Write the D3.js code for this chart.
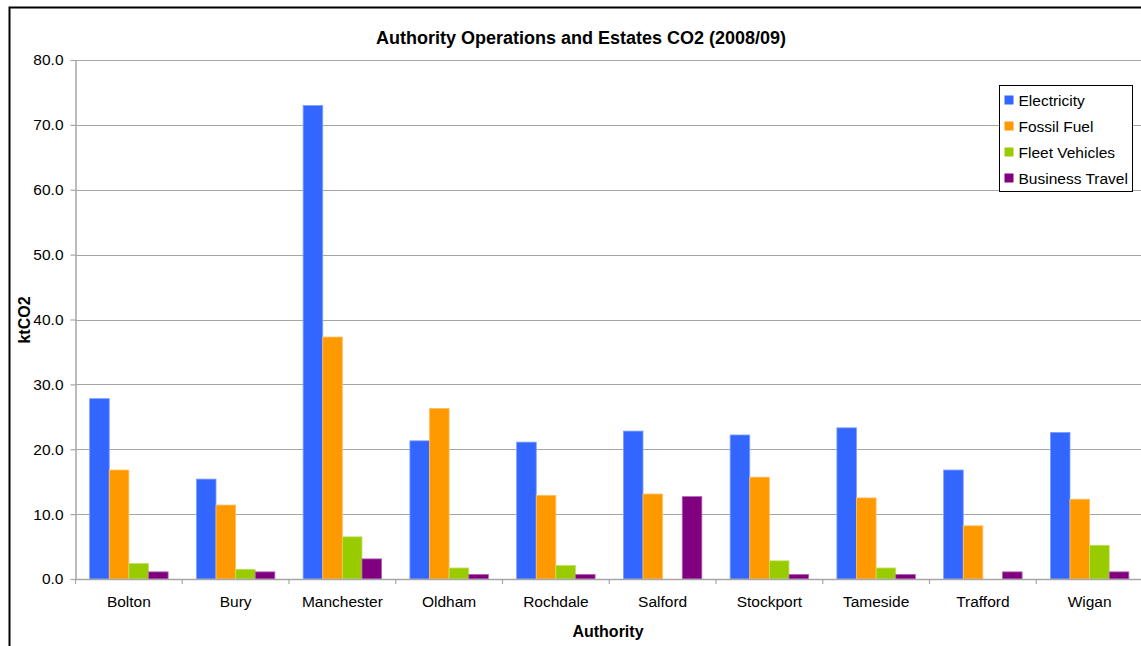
<!DOCTYPE html>
<html>
<head>
<meta charset="utf-8">
<script src="https://cdn.jsdelivr.net/npm/d3@7"></script>
<style>
  html, body { margin: 0; padding: 0; background: #fff; }
  svg { display: block; font-family: "Liberation Sans", Arial, sans-serif; }
</style>
</head>
<body>
<svg id="chart" width="1141" height="646"></svg>
<script>
// Authorities on the x axis
const authorities = ["Bolton", "Bury", "Manchester", "Oldham", "Rochdale", "Salford", "Stockport", "Tameside", "Trafford", "Wigan"];

// Emission sources (series)
const seriesNames = ["Electricity", "Fossil Fuel", "Fleet Vehicles", "Business Travel"];

// ktCO2 per authority for each source
const electricity    = [27.8, 15.4, 73.0, 21.3, 21.1, 22.8, 22.2, 23.3, 16.8, 22.6];
const fossilFuel     = [16.8, 11.4, 37.3, 26.3, 12.9, 13.1, 15.7, 12.5, 8.2, 12.3];
const fleetVehicles  = [2.4, 1.5, 6.5, 1.7, 2.1, 0.0, 2.8, 1.7, 0.0, 5.2];
const businessTravel = [1.1, 1.1, 3.1, 0.7, 0.7, 12.7, 0.7, 0.7, 1.1, 1.1];

const yTicks = [0, 10, 20, 30, 40, 50, 60, 70, 80];

const seriesValues = [electricity, fossilFuel, fleetVehicles, businessTravel];
const colors = ["#3366FF", "#FF9900", "#99CC00", "#800080"];
const edgeColors = ["#7fa0ff", "#ffc266", "#c2e066", "#b366b3"];

const labelFont = 15.5;

const svg = d3.select("#chart");

// Outer chart border
svg.append("rect")
  .attr("x", 9.5).attr("y", 7.5)
  .attr("width", 1160).attr("height", 700)
  .attr("fill", "#fff").attr("stroke", "#000").attr("stroke-width", 2);

const plot = { left: 75.5, right: 1143, top: 60, bottom: 579 };

const x0 = d3.scaleBand()
  .domain(authorities)
  .range([plot.left, plot.right])
  .paddingInner(0).paddingOuter(0);

const groupWidth = x0.bandwidth() * 0.735;
const x1 = d3.scaleBand()
  .domain(seriesNames)
  .range([0, groupWidth])
  .padding(0);

const y = d3.scaleLinear().domain([0, 80]).range([plot.bottom, plot.top]);

// Horizontal gridlines
svg.append("g")
  .selectAll("line")
  .data(yTicks.filter(t => t > 0))
  .join("line")
  .attr("x1", plot.left).attr("x2", plot.right)
  .attr("y1", d => Math.round(y(d)) + 0.5).attr("y2", d => Math.round(y(d)) + 0.5)
  .attr("stroke", "#a6a6a6").attr("stroke-width", 1.2);

// Bars
const groups = svg.append("g")
  .selectAll("g")
  .data(authorities)
  .join("g")
  .attr("transform", d => `translate(${x0(d) + (x0.bandwidth() - groupWidth) / 2},0)`);

groups.selectAll("rect")
  .data((d, i) => seriesNames.map((s, j) => ({ s, j, v: seriesValues[j][i] })))
  .join("rect")
  .filter(d => d.v > 0)
  .attr("x", d => x1(d.s))
  .attr("y", d => y(d.v))
  .attr("width", x1.bandwidth())
  .attr("height", d => y(0) - y(d.v))
  .attr("fill", d => colors[d.j])
  .attr("stroke", d => edgeColors[d.j])
  .attr("stroke-width", 0.8);

// Y axis
const yAxis = d3.axisLeft(y)
  .tickValues(yTicks)
  .tickFormat(d3.format(".1f"))
  .tickSizeInner(5).tickSizeOuter(0).tickPadding(7);

const yg = svg.append("g")
  .attr("transform", `translate(${plot.left},0)`)
  .call(yAxis);
yg.select(".domain").attr("stroke", "#a6a6a6").attr("stroke-width", 1.5);
yg.selectAll(".tick line").attr("stroke", "#a6a6a6").attr("stroke-width", 1.2);
yg.selectAll(".tick text")
  .attr("font-size", labelFont).attr("fill", "#000")
  .attr("font-family", "'Liberation Sans', Arial, sans-serif");

// X axis: ticks sit between categories
const xAxisG = svg.append("g").attr("transform", `translate(0,${plot.bottom})`);
xAxisG.append("line")
  .attr("x1", plot.left).attr("x2", plot.right)
  .attr("y1", 0.5).attr("y2", 0.5)
  .attr("stroke", "#a6a6a6").attr("stroke-width", 1.5);
const boundaries = authorities.map(a => x0(a)).concat([plot.right]);
xAxisG.selectAll("line.tk")
  .data(boundaries)
  .join("line")
  .attr("class", "tk")
  .attr("x1", d => d).attr("x2", d => d)
  .attr("y1", 0).attr("y2", 5)
  .attr("stroke", "#a6a6a6").attr("stroke-width", 1.2);
xAxisG.selectAll("text")
  .data(authorities)
  .join("text")
  .attr("x", d => x0(d) + x0.bandwidth() / 2)
  .attr("y", 28)
  .attr("text-anchor", "middle")
  .attr("font-size", labelFont)
  .attr("fill", "#000")
  .text(d => d);

// Title and axis titles
svg.append("text")
  .attr("x", 581).attr("y", 44)
  .attr("text-anchor", "middle")
  .attr("font-size", 18).attr("font-weight", "bold")
  .text("Authority Operations and Estates CO2 (2008/09)");

svg.append("text")
  .attr("x", 608).attr("y", 637)
  .attr("text-anchor", "middle")
  .attr("font-size", 16).attr("font-weight", "bold")
  .text("Authority");

svg.append("text")
  .attr("transform", "translate(30,320) rotate(-90)")
  .attr("text-anchor", "middle")
  .attr("font-size", 16).attr("font-weight", "bold")
  .text("ktCO2");

// Legend
const legend = svg.append("g").attr("transform", "translate(999.5,85.5)");
legend.append("rect")
  .attr("width", 133).attr("height", 106)
  .attr("fill", "#fff").attr("stroke", "#000").attr("stroke-width", 1);
const items = legend.selectAll("g")
  .data(seriesNames)
  .join("g")
  .attr("transform", (d, i) => `translate(0,${15 + i * 26})`);
items.append("rect")
  .attr("x", 5).attr("y", -5)
  .attr("width", 9).attr("height", 9)
  .attr("fill", (d, i) => colors[i]);
items.append("text")
  .attr("x", 19).attr("y", 5.5)
  .attr("font-size", labelFont)
  .text(d => d);
</script>
</body>
</html>
